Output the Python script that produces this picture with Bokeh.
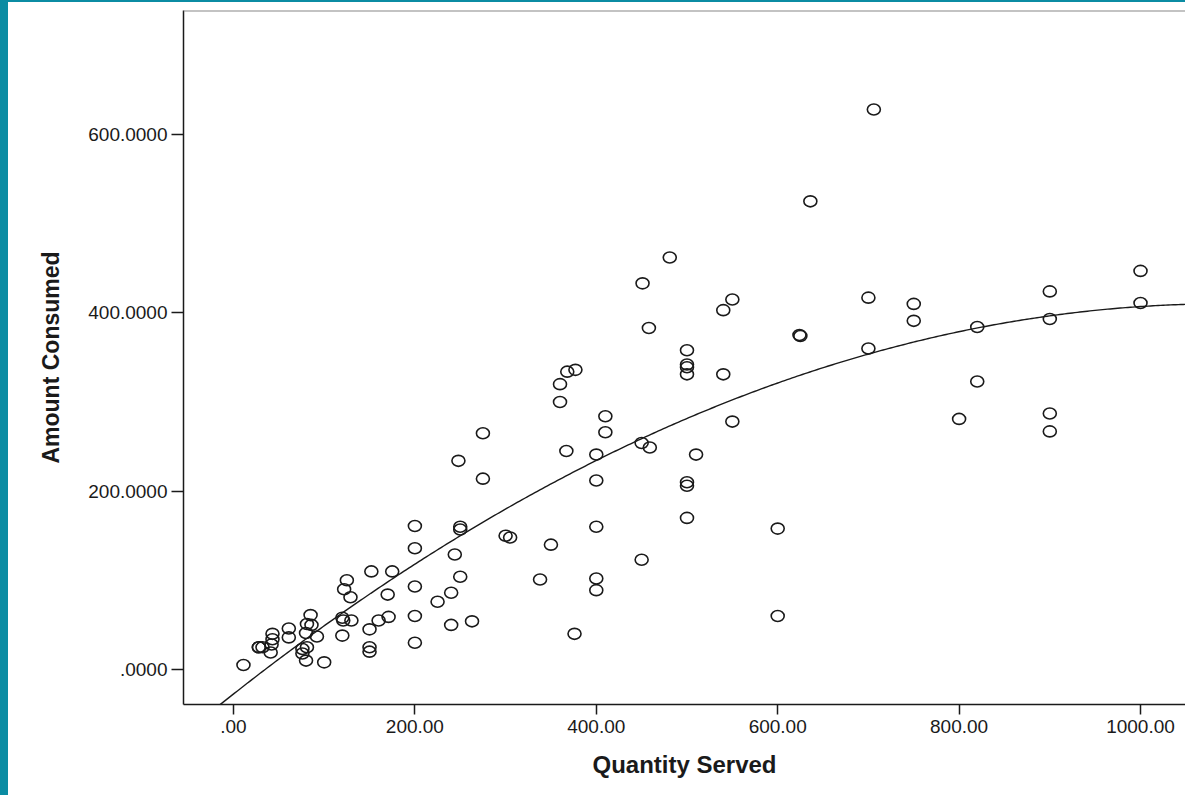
from bokeh.plotting import figure
from bokeh.models import Range1d, FixedTicker, Span, Div
from bokeh.layouts import row, column
from bokeh.embed import file_html
from bokeh.resources import INLINE
import numpy as np

# ---- data ----
quantity = [706, 636, 481, 451, 1000, 1000, 900, 900, 820, 820,
            800, 900, 900, 700, 700, 750, 750, 550, 540, 458,
            540, 550, 625, 624, 500, 500, 500, 500, 368, 377,
            360, 360, 410, 410, 367, 400, 450, 459, 510, 400,
            500, 500, 500, 600, 400, 450, 400, 400, 600, 376,
            338, 350, 300, 305, 250, 250, 248, 275, 275, 200,
            200, 200, 200, 200, 244, 250, 225, 240, 240, 263,
            152, 175, 170, 171, 160, 150, 150, 150, 125, 122,
            129, 120, 121, 130, 120, 85, 81, 86, 80, 92,
            76, 81, 76, 80, 100, 61, 61, 43, 43, 42,
            41, 28, 28, 32, 11]
consumed = [628, 525, 462, 433, 447, 411, 424, 393, 384, 323,
            281, 287, 267, 417, 360, 410, 391, 415, 403, 383,
            331, 278, 374, 375, 358, 342, 339, 331, 334, 336,
            320, 300, 284, 266, 245, 241, 254, 249, 241, 212,
            210, 206, 170, 158, 160, 123, 102, 89, 60, 40,
            101, 140, 150, 148, 160, 157, 234, 265, 214, 161,
            136, 93, 60, 30, 129, 104, 76, 86, 50, 54,
            110, 110, 84, 59, 55, 45, 25, 20, 100, 90,
            81, 58, 55, 55, 38, 61, 51, 50, 41, 37,
            23, 25, 18, 10, 8, 46, 36, 40, 34, 28,
            19, 25, 25, 25, 5]

# quadratic fit line coefficients (intercept, linear, quadratic)
fit_coef = [-27.5, 0.8015, -0.000367]

x_ticks = [0, 200, 400, 600, 800, 1000]
x_tick_labels = [".00", "200.00", "400.00", "600.00", "800.00", "1000.00"]
y_ticks = [0, 200, 400, 600]
y_tick_labels = [".0000", "200.0000", "400.0000", "600.0000"]

FONT = "Liberation Sans"
INK = "#1a1a1a"
TEAL = "#0b8ca3"

fig = figure(width=1177, height=793, output_backend="svg", toolbar_location=None,
             x_range=Range1d(-55.1, 1049.6), y_range=Range1d(-39.25, 739.0),
             min_border_left=175, min_border_right=0, min_border_top=8,
             min_border_bottom=91)
fig.outline_line_color = None
fig.grid.visible = False
fig.background_fill_color = "white"
fig.border_fill_color = "white"

for ax, ticks, labels, tout in ((fig.xaxis[0], x_ticks, x_tick_labels, 10),
                                (fig.yaxis[0], y_ticks, y_tick_labels, 12)):
    ax.ticker = FixedTicker(ticks=ticks)
    ax.major_label_overrides = {t: l for t, l in zip(ticks, labels)}
    ax.axis_line_color = INK
    ax.axis_line_width = 1.5
    ax.major_tick_line_color = INK
    ax.major_tick_line_width = 1.5
    ax.major_tick_out = tout
    ax.major_tick_in = 0
    ax.minor_tick_line_color = None
    ax.major_label_text_font = FONT
    ax.major_label_text_font_size = "19px"
    ax.major_label_text_color = INK
    ax.axis_label_text_font = FONT
    ax.axis_label_text_font_style = "bold"
    ax.axis_label_text_color = INK

fig.xaxis.axis_label = "Quantity Served"
fig.xaxis.axis_label_text_font_size = "24px"
fig.xaxis.major_label_standoff = 5
fig.xaxis.axis_label_standoff = 15
fig.yaxis.axis_label = "Amount Consumed"
fig.yaxis.axis_label_text_font_size = "23px"
fig.yaxis.major_label_standoff = 4
fig.yaxis.axis_label_standoff = 21

# top frame line
fig.add_layout(Span(location=739.0, dimension="width", line_color="#888888", line_width=2))

# fit curve
xs = np.linspace(-60, 1050, 400)
ys = np.polyval(fit_coef[::-1], xs)
fig.line(xs, ys, line_color=INK, line_width=1.4)

# data points (open ellipses)
fig.ellipse(x=quantity, y=consumed, width=13, height=11,
            width_units="screen", height_units="screen",
            fill_color=None, line_color=INK, line_width=1.6)

# slide decoration: teal edges (top strip and left strip)
top_strip = Div(text="", width=1185, height=2, margin=0,
                styles={"background-color": TEAL})
left_strip = Div(text="", width=8, height=793, margin=0,
                 styles={"background-color": TEAL})

p = column(top_strip, row(left_strip, fig, spacing=0), spacing=0)

open("out.html", "w").write(file_html(p, INLINE))
